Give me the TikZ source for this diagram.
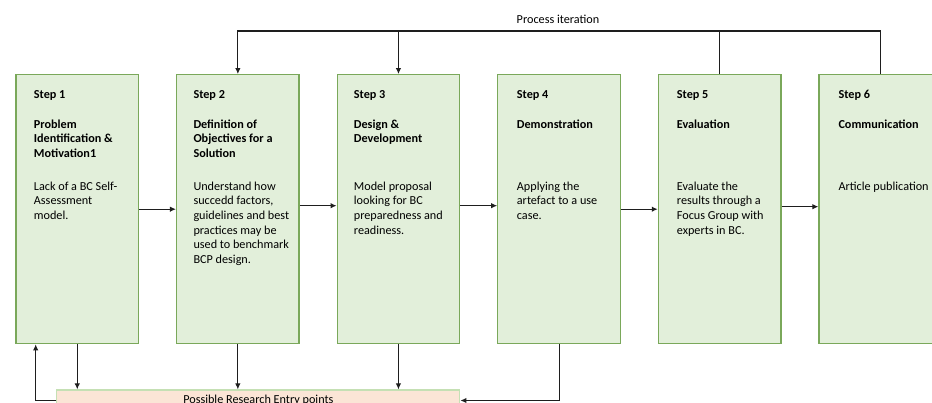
\documentclass[tikz,border=0pt]{standalone}
\usepackage{fontspec}
\setmainfont{Carlito}
\usetikzlibrary{arrows.meta}
\definecolor{boxfill}{RGB}{226,239,218}
\definecolor{boxline}{RGB}{122,168,90}
\definecolor{entryfill}{RGB}{251,229,214}
\definecolor{entryline}{RGB}{197,224,180}
\definecolor{wirecol}{RGB}{30,30,30}

\begin{document}
\begin{tikzpicture}[x=1pt,y=-1pt,
  stepbox/.style={draw=boxline, fill=boxfill, line width=1.3pt,
    minimum width=122.5pt, minimum height=269pt, inner sep=0pt},
  entrybox/.style={draw=entryline, fill=entryfill, line width=1.2pt,
    minimum width=403pt, minimum height=21pt, inner sep=0pt,
    font=\fontsize{12.2}{14.7}\selectfont},
  head/.style={anchor=north west, inner sep=0pt, align=left,
    font=\fontsize{12.2}{14.7}\selectfont\bfseries},
  body/.style={anchor=north west, inner sep=0pt, align=left,
    font=\fontsize{12.2}{14.7}\selectfont},
  wire/.style={draw=wirecol, line width=1.1pt},
  flow/.style={wire, -{Latex[length=6pt,width=5.5pt]}},
]
\useasboundingbox (0,0) rectangle (932,403);

% the six process steps
\node[stepbox] (s1) at (77.25,209.2) {};
\node[stepbox] (s2) at (237.85,209.2) {};
\node[stepbox] (s3) at (398.45,209.2) {};
\node[stepbox] (s4) at (559.05,209.2) {};
\node[stepbox] (s5) at (719.65,209.2) {};
\node[stepbox] (s6) at (880.25,209.2) {};

% step titles
\node[head] (h1) at (33.7,88) {\rule{0pt}{10pt}Step 1\\[15.3pt]Problem\\Identification \&\\Motivation1};
\node[head] (h2) at (193.3,88) {\rule{0pt}{10pt}Step 2\\[15.3pt]Definition of\\Objectives for a\\Solution};
\node[head] (h3) at (353.7,88) {\rule{0pt}{10pt}Step 3\\[15.3pt]Design \&\\Development};
\node[head] (h4) at (516.7,88) {\rule{0pt}{10pt}Step 4\\[15.3pt]Demonstration};
\node[head] (h5) at (676.7,88) {\rule{0pt}{10pt}Step 5\\[15.3pt]Evaluation};
\node[head] (h6) at (838.3,88) {\rule{0pt}{10pt}Step 6\\[15.3pt]Communication};

% step descriptions
\node[body] (b1) at (33.7,180) {\rule{0pt}{10pt}Lack of a BC Self-\\Assessment\\model.};
\node[body] (b2) at (193.3,180) {\rule{0pt}{10pt}Understand how\\succedd factors,\\guidelines and best\\practices may be\\used to benchmark\\BCP design.};
\node[body] (b3) at (353.7,180) {\rule{0pt}{10pt}Model proposal\\looking for BC\\preparedness and\\readiness.};
\node[body] (b4) at (516.7,180) {\rule{0pt}{10pt}Applying the\\artefact to a use\\case.};
\node[body] (b5) at (676.7,180) {\rule{0pt}{10pt}Evaluate the\\results through a\\Focus Group with\\experts in BC.};
\node[body] (b6) at (838.3,180) {\rule{0pt}{10pt}Article publication};

% forward flow between steps
\draw[flow] (s1.east) -- (s2.west);
\draw[flow] ([yshift=3.5pt]s2.east) -- ([yshift=3.5pt]s3.west);
\draw[flow] ([yshift=3.5pt]s3.east) -- ([yshift=3.5pt]s4.west);
\draw[flow] (s4.east) -- (s5.west);
\draw[flow] ([yshift=2.5pt]s5.east) -- ([yshift=2.5pt]s6.west);

% iteration loop over the top
\coordinate (iter) at (0,31);
\draw[flow] (s6.north) -- (s6.north |- iter) -- (s2.north |- iter) -- (s2.north);
\draw[wire] (s5.north) -- (s5.north |- iter);
\draw[flow] (s3.north |- iter) -- (s3.north);
\node[font=\fontsize{12.2}{14.7}\selectfont, inner sep=0pt] (iterlabel) at (558,19) {Process iteration};

% research entry points
\node[entrybox] (entry) at (258.35,400.5) {Possible Research Entry points};
\draw[flow] (s1.south) -- (s1.south |- entry.north);
\draw[flow] (s2.south) -- (s2.south |- entry.north);
\draw[flow] (s3.south) -- (s3.south |- entry.north);
\draw[flow] (s4.south) |- (entry.east);
\coordinate (back) at (35.7,0);
\draw[flow] (entry.west) -| (back |- s1.south);
\end{tikzpicture}
\end{document}
